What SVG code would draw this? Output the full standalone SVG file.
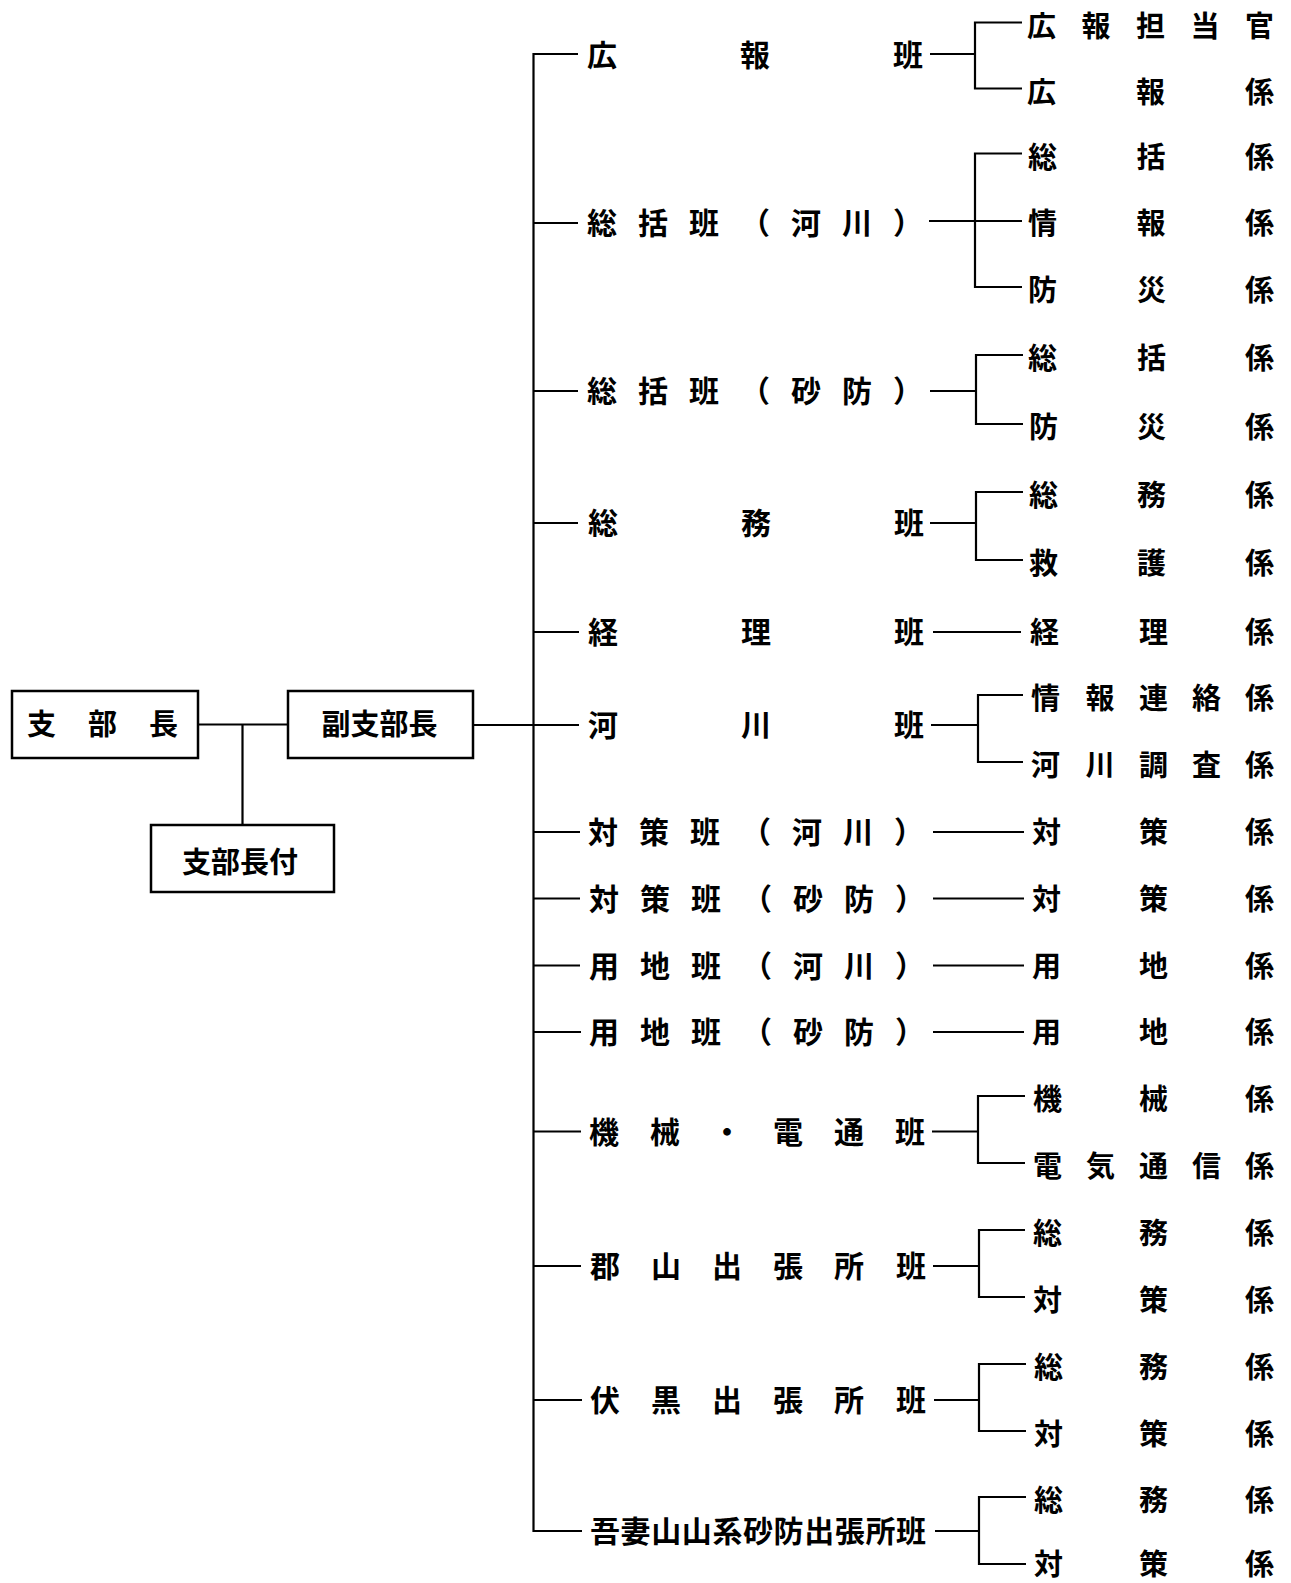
<svg xmlns="http://www.w3.org/2000/svg" width="1291" height="1583" viewBox="0 0 1291 1583">
<style>
.t{font-family:"Noto Sans CJK JP","Noto Sans CJK SC",sans-serif;font-weight:700;fill:#000}
.m{font-size:30px}
.r{font-size:29px}
.b{font-size:29px}
.box{fill:#fff;stroke:#000;stroke-width:2.5}
.ln{stroke:#000;stroke-width:2.2;fill:none}
</style>
<rect width="1291" height="1583" fill="#fff"/>
<g id="connectors" class="ln">
<path d="M198,724.5H288M242.5,724.5V825"/>
<path d="M473,725H533.5"/>
<path d="M578,54H533.5V1531H582"/>
<path d="M533.5,223H578M533.5,391H578M533.5,523H578M533.5,632H579M533.5,725H579M533.5,832H580M533.5,898.5H580M533.5,965.5H580M533.5,1032H581M533.5,1131.5H581M533.5,1266H581M533.5,1400H582"/>
<path d="M930,54H975M1022,22.5H975V88.5H1022"/>
<path d="M929,221H1022M1022,153.5H975V287H1022"/>
<path d="M930,391H976M1023,355H976V424H1023"/>
<path d="M930,523H976M1023,492H976V560H1023"/>
<path d="M933,632H1021"/>
<path d="M931,725H978M1023,695H978V762H1023"/>
<path d="M933,832H1024M933,898.5H1024M933,965.5H1024M933,1032H1024"/>
<path d="M932,1131.5H978M1025,1096H978V1163H1025"/>
<path d="M933,1266H979M1025,1230H979V1297H1025"/>
<path d="M934,1400H979M1026,1364H979V1431H1026"/>
<path d="M935,1531H979M1026,1497H979V1564H1026"/>
</g>
<g id="n-shibucho"><rect class="box" x="12" y="691" width="186" height="67"/><text class="t b" x="27 88 149" y="735">支部長</text></g>
<g id="n-fukushibucho"><rect class="box" x="288" y="691" width="185" height="67"/><text class="t b" x="379.5" y="735" text-anchor="middle">副支部長</text></g>
<g id="n-shibuchotsuki"><rect class="box" x="151" y="825" width="183" height="67"/><text class="t b" x="240" y="873" text-anchor="middle">支部長付</text></g>

<g id="m-kouhou"><text class="t m" x="587 740 893" y="66.4">広報班</text></g>
<g id="m-soukatsu-kasen"><text class="t m" x="587 638 689 740 791 842 893" y="234.4">総括班（河川）</text></g>
<g id="m-soukatsu-sabou"><text class="t m" x="587 638 689 740 791 842 893" y="402.4">総括班（砂防）</text></g>
<g id="m-soumu"><text class="t m" x="588 741 894" y="534.4">総務班</text></g>
<g id="m-keiri"><text class="t m" x="588 741 894" y="643.4">経理班</text></g>
<g id="m-kasen"><text class="t m" x="588 741 894" y="736.4">河川班</text></g>
<g id="m-taisaku-kasen"><text class="t m" x="588 639 690 741 792 843 894" y="843.4">対策班（河川）</text></g>
<g id="m-taisaku-sabou"><text class="t m" x="589 640 691 742 793 844 895" y="909.9">対策班（砂防）</text></g>
<g id="m-youchi-kasen"><text class="t m" x="589 640 691 742 793 844 895" y="976.9">用地班（河川）</text></g>
<g id="m-youchi-sabou"><text class="t m" x="589 640 691 742 793 844 895" y="1043.4">用地班（砂防）</text></g>
<g id="m-kikai"><text class="t m" x="589 650 712 773 834 895" y="1142.9">機械・電通班</text></g>
<g id="m-kooriyama"><text class="t m" x="590 651 712 773 834 896" y="1277.4">郡山出張所班</text></g>
<g id="m-fushiguro"><text class="t m" x="590 651 712 773 834 896" y="1411.4">伏黒出張所班</text></g>
<g id="m-azuma"><text class="t m" x="590 620.6 651.2 681.8 712.4 743 773.6 804.2 834.8 865.4 896" y="1542.4">吾妻山山系砂防出張所班</text></g>

<g id="r0"><text class="t r" x="1027 1081.5 1136 1190.5 1245" y="36.5">広報担当官</text></g>
<g id="r1"><text class="t r" x="1027 1136 1245" y="102.5">広報係</text></g>
<g id="r2"><text class="t r" x="1028 1136.5 1245" y="167.5">総括係</text></g>
<g id="r3"><text class="t r" x="1028 1136.5 1245" y="234">情報係</text></g>
<g id="r4"><text class="t r" x="1028 1137 1245" y="301">防災係</text></g>
<g id="r5"><text class="t r" x="1028 1137 1245" y="369">総括係</text></g>
<g id="r6"><text class="t r" x="1029 1137 1245" y="438">防災係</text></g>
<g id="r7"><text class="t r" x="1029 1137 1245" y="506">総務係</text></g>
<g id="r8"><text class="t r" x="1029 1137 1245" y="574">救護係</text></g>
<g id="r9"><text class="t r" x="1030 1139 1245" y="643">経理係</text></g>
<g id="r10"><text class="t r" x="1031 1085.5 1139 1192 1245" y="709">情報連絡係</text></g>
<g id="r11"><text class="t r" x="1031 1085.5 1139 1192 1245" y="776">河川調査係</text></g>
<g id="r12"><text class="t r" x="1032 1139 1245" y="843">対策係</text></g>
<g id="r13"><text class="t r" x="1032 1139 1245" y="909.5">対策係</text></g>
<g id="r14"><text class="t r" x="1032 1139 1245" y="976.5">用地係</text></g>
<g id="r15"><text class="t r" x="1032 1139 1245" y="1043">用地係</text></g>
<g id="r16"><text class="t r" x="1033 1139 1245" y="1110">機械係</text></g>
<g id="r17"><text class="t r" x="1033 1086 1139 1192 1245" y="1177">電気通信係</text></g>
<g id="r18"><text class="t r" x="1033 1139 1245" y="1244">総務係</text></g>
<g id="r19"><text class="t r" x="1033 1139 1245" y="1311">対策係</text></g>
<g id="r20"><text class="t r" x="1034 1139 1245" y="1378">総務係</text></g>
<g id="r21"><text class="t r" x="1034 1139 1245" y="1445">対策係</text></g>
<g id="r22"><text class="t r" x="1034 1139 1245" y="1511">総務係</text></g>
<g id="r23"><text class="t r" x="1034 1139 1245" y="1575">対策係</text></g>
</svg>
